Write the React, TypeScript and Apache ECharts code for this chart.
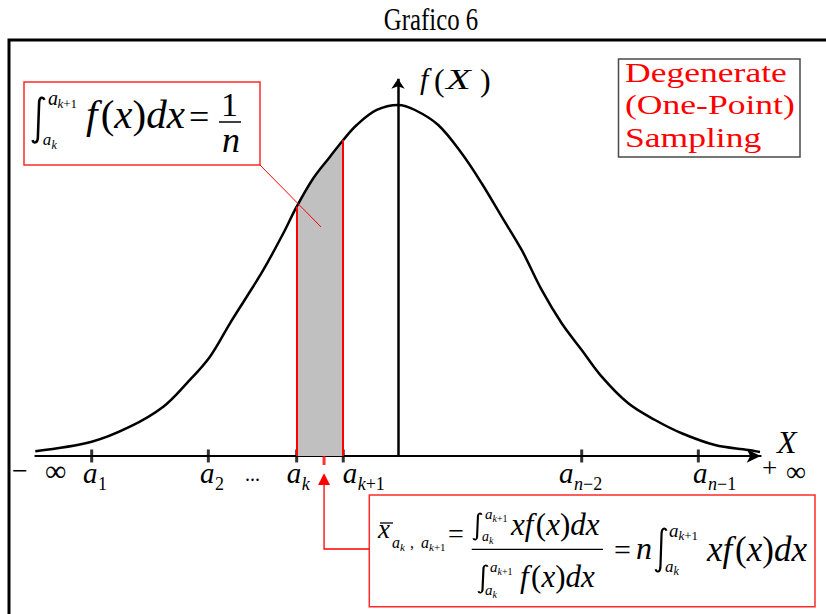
import { useEffect, useRef } from 'react';
import * as echarts from 'echarts';

// Density curve f(x): x in sigma units, f as density
const CURVE_X = [-3.1, -2.618, -2.291, -2.006, -1.806, -1.607, -1.436, -1.293, -1.151, -0.98, -0.866, -0.724, -0.581, -0.468, -0.353, -0.182, 0, 0.145, 0.344, 0.544, 0.715, 0.886, 1.057, 1.228, 1.399, 1.57, 1.741, 1.968, 2.197, 2.425, 2.709, 2.994, 3.094];
const CURVE_F = [0.0055, 0.0163, 0.0334, 0.0562, 0.0828, 0.1132, 0.1512, 0.1815, 0.212, 0.2538, 0.2841, 0.3165, 0.3411, 0.3601, 0.3772, 0.3943, 0.4, 0.3943, 0.3772, 0.3449, 0.3108, 0.2727, 0.2348, 0.1892, 0.1512, 0.1208, 0.0904, 0.06, 0.041, 0.0259, 0.0125, 0.0068, 0.0045];

// Partition points a_i on the X axis and their subscripts
const TICK_X = [-2.618, -1.621, -0.866, -0.468, 1.57, 2.567];
const TICK_SUB = ['1', '2', 'k', 'k+1', 'n−2', 'n−1'];
const BAND_LO = 2; // index of a_k
const BAND_HI = 3; // index of a_{k+1}

// Conditional mean of the interval and the pointer dot inside the band
const XBAR = -0.632;
const POINTER: [number, number] = [-0.658, 0.261];

const BOX_LINES = ['Degenerate', '(One-Point)', 'Sampling'];

// label placement relative to each tick (px)
const LABEL_DX = [-8.7, -8.3, -10, -0.6, -22.7, -5.3];

const SERIF = "'Liberation Serif', 'Times New Roman', serif";
const RED = '#ff0000';

const INTEGRAL_D = 'M 11.5 3 C 10.2 -0.6 7.2 -0.2 6.6 5 L 5.4 43 C 4.9 48.6 1.6 48.6 0.5 45';
echarts.graphic.registerShape('integral', echarts.graphic.extendPath(INTEGRAL_D, {}));

type TOpt = { italic?: boolean; align?: string; fill?: string; sx?: number };

const fontOf = (size: number, italic?: boolean) => `${italic ? 'italic ' : ''}${size}px ${SERIF}`;

let measureCtx: CanvasRenderingContext2D | null = null;
function textWidth(s: string, font: string) {
  if (!measureCtx) measureCtx = document.createElement('canvas').getContext('2d');
  if (!measureCtx) return s.length * 10;
  measureCtx.font = font;
  return measureCtx.measureText(s).width;
}

function txt(text: string, x: number, base: number, size: number, o: TOpt = {}) {
  const align = o.align || 'left';
  return {
    type: 'text',
    x,
    y: base - 0.34 * size,
    scaleX: o.sx ?? 1,
    silent: true,
    z: 10,
    style: {
      text,
      fill: o.fill || '#000',
      font: fontOf(size, o.italic),
      align,
      verticalAlign: 'middle',
    },
  };
}

// a run of glyph groups set one after another: [text, italic, extra gap in em]
type Part = [string, boolean, number?];
function seq(out: any[], parts: Part[], x: number, base: number, size: number) {
  let cx = x;
  for (const [s, it, gap] of parts) {
    out.push(txt(s, cx, base, size, { italic: it }));
    cx += textWidth(s, fontOf(size, it)) + (gap ?? 0) * size;
  }
  return cx;
}

const F_X_DX: Part[] = [['f', true, 0.08], ['(', false], ['x', true], [')', false], ['dx', true]];
const XF_X_DX: Part[] = [['xf', true, 0.08], ['(', false], ['x', true], [')', false], ['dx', true]];
const K_PLUS_1: Part[] = [['k', true], ['+1', false]];

function subParts(s: string): Part[] {
  const out: Part[] = [];
  for (const ch of s) {
    const it = ch === 'k' || ch === 'n';
    const last = out[out.length - 1];
    if (last && last[1] === it) last[0] += ch;
    else out.push([ch, it]);
  }
  return out;
}

function integral(x: number, y: number, w: number, h: number, lw: number) {
  return {
    type: 'integral',
    x,
    y,
    scaleX: w / 12,
    scaleY: h / 48,
    silent: true,
    z: 10,
    style: { stroke: '#000', fill: 'none', lineWidth: lw, strokeNoScale: true },
  };
}

function hline(x1: number, x2: number, y: number, lw: number, color = '#000') {
  return { type: 'line', silent: true, z: 10, shape: { x1, y1: y, x2, y2: y }, style: { stroke: color, lineWidth: lw } };
}

export default function App() {
  const ref = useRef<HTMLDivElement>(null);

  useEffect(() => {
    if (!ref.current) return;
    const chart = echarts.init(ref.current, undefined, { renderer: 'svg' });

    const curve = CURVE_X.map((x, i) => [x, CURVE_F[i]]);
    const lo = TICK_X[BAND_LO];
    const hi = TICK_X[BAND_HI];
    const band = curve.filter(([x]) => x >= lo - 1e-9 && x <= hi + 1e-9);
    const fLo = band[0][1];
    const fHi = band[band.length - 1][1];

    chart.setOption({
      animation: false,
      grid: { left: 35.3, right: 65.3, top: 69.9, bottom: 26.4, outerBoundsMode: 'none', containLabel: false },
      xAxis: {
        type: 'value',
        min: -3.1,
        max: 3.1,
        axisLine: {
          show: true,
          onZero: true,
          symbol: ['none', 'arrow'],
          symbolSize: [10, 14],
          lineStyle: { color: '#000', width: 2 },
        },
        axisTick: { show: false },
        axisLabel: { show: false },
        splitLine: { show: false },
      },
      yAxis: {
        type: 'value',
        min: -0.15,
        max: 0.44,
        show: false,
        splitLine: { show: false },
      },
      series: [
        {
          type: 'line',
          data: band,
          smooth: 0.35,
          symbol: 'none',
          silent: true,
          lineStyle: { width: 0 },
          areaStyle: { color: '#c0c0c0', opacity: 1 },
          markLine: {
            silent: true,
            symbol: ['none', 'none'],
            label: { show: false },
            lineStyle: { color: RED, width: 2, type: 'solid' },
            data: [
              [{ coord: [lo, 0] }, { coord: [lo, fLo] }],
              [{ coord: [hi, 0] }, { coord: [hi, fHi] }],
            ],
          },
        },
        {
          type: 'line',
          data: curve,
          smooth: 0.35,
          symbol: 'none',
          silent: true,
          lineStyle: { color: '#000', width: 2.5 },
          markLine: {
            silent: true,
            symbol: ['none', 'arrow'],
            symbolSize: [10, 10],
            label: { show: false },
            lineStyle: { color: '#000', width: 2.5, type: 'solid' },
            data: [[{ coord: [0, 0] }, { coord: [0, 0.43] }]],
          },
        },
        {
          type: 'scatter',
          silent: true,
          symbol: 'rect',
          symbolSize: [3, 13],
          itemStyle: { color: '#000' },
          data: TICK_X.map((x) => [x, 0]),
        },
        {
          type: 'scatter',
          silent: true,
          symbol: 'rect',
          symbolSize: [3, 18],
          itemStyle: { color: RED },
          data: [[XBAR, 0]],
        },
        {
          type: 'scatter',
          silent: true,
          symbol: 'circle',
          symbolSize: 10,
          itemStyle: { color: RED },
          data: [POINTER],
        },
      ],
    });

    const P = (x: number, y: number) => chart.convertToPixel({ gridIndex: 0 }, [x, y]) as number[];
    const axisY = P(0, 0)[1];

    const g: any[] = [];
    // frame and title
    g.push({ type: 'rect', silent: true, z: 1, shape: { x: 9, y: 40, width: 840, height: 600 }, style: { fill: 'none', stroke: '#000', lineWidth: 3 } });
    g.push(txt('Grafico 6', 431, 30, 31, { align: 'center', sx: 0.8 }));

    // axis labels
    TICK_X.forEach((x, i) => {
      const ax = P(x, 0)[0] + LABEL_DX[i];
      const end = seq(g, [['a', true]], ax, 483, 29);
      seq(g, subParts(TICK_SUB[i]), end + 0.5, 490, 18);
    });
    const dotsX = (P(TICK_X[1], 0)[0] + P(TICK_X[2], 0)[0]) / 2;
    g.push(txt('...', dotsX, 481, 20, { align: 'center' }));
    g.push(txt('−', 12, 480, 28));
    g.push(txt('∞', 45, 481, 30));
    g.push(txt('+', 762, 477, 27));
    g.push(txt('∞', 786, 481.5, 28));
    g.push(txt('X', 777, 453, 32, { italic: true }));

    // f(X) label
    g.push(txt('f', 420, 89, 30, { italic: true }));
    g.push(txt('(', 434, 91, 32));
    g.push(txt('X', 446, 89, 30, { italic: true, sx: 1.35 }));
    g.push(txt(')', 480, 91, 32));

    // box: integral equals 1/n
    g.push({ type: 'rect', silent: true, z: 9, shape: { x: 24, y: 82, width: 236, height: 83 }, style: { fill: '#fff', stroke: '#ff2a2a', lineWidth: 1.5 } });
    g.push(integral(32, 97, 13, 46, 2.4));
    seq(g, [['a', true]], 48, 105, 20);
    seq(g, K_PLUS_1, 57.5, 108, 13);
    seq(g, [['a', true]], 42.7, 145.5, 17);
    seq(g, [['k', true]], 51.5, 149, 12);
    seq(g, F_X_DX, 86, 128, 41);
    g.push(txt('=', 189, 129, 36));
    g.push(txt('1', 229.5, 116, 34, { align: 'center' }));
    g.push(hline(219, 241, 122, 1.5));
    g.push(txt('n', 231, 152, 36, { italic: true, align: 'center' }));
    const pd = P(POINTER[0], POINTER[1]);
    g.push({ type: 'line', silent: true, z: 10, shape: { x1: 260, y1: 165, x2: pd[0], y2: pd[1] }, style: { stroke: RED, lineWidth: 1 } });

    // box: degenerate sampling
    g.push({ type: 'rect', silent: true, z: 9, shape: { x: 618.5, y: 59, width: 181.5, height: 98 }, style: { fill: '#fff', stroke: '#4a4a4a', lineWidth: 1.5 } });
    BOX_LINES.forEach((s, i) => {
      g.push(txt(s, 625, 81.7 + i * 32.5, 28, { fill: RED, sx: 1.27 }));
    });

    // pointer from the interval mean to the formula box
    const xb = P(XBAR, 0)[0];
    g.push({ type: 'polygon', silent: true, z: 10, shape: { points: [[xb, axisY + 17.3], [xb - 6, axisY + 29], [xb + 6, axisY + 29]] }, style: { fill: RED } });
    g.push({ type: 'polyline', silent: true, z: 10, shape: { points: [[xb, axisY + 29], [xb, 549], [369.3, 549]] }, style: { stroke: RED, lineWidth: 1.3, fill: 'none' } });

    // box: conditional mean formula
    g.push({ type: 'rect', silent: true, z: 9, shape: { x: 369.3, y: 495, width: 445.7, height: 111.7 }, style: { fill: '#fff', stroke: '#ff2a2a', lineWidth: 1.5 } });
    g.push(txt('x', 378, 538, 27, { italic: true }));
    g.push(hline(380, 393, 523, 1.3));
    seq(g, [['a', true]], 392, 548, 16);
    seq(g, [['k', true]], 400, 551, 11);
    g.push(txt(',', 410, 548, 16));
    seq(g, [['a', true]], 421, 548, 16);
    seq(g, K_PLUS_1, 429, 551, 11);
    g.push(txt('=', 448, 543, 28));
    // numerator
    g.push(integral(473, 513, 9, 27, 1.8));
    seq(g, [['a', true]], 485, 519, 15);
    seq(g, K_PLUS_1, 492.5, 522, 10);
    seq(g, [['a', true]], 482, 541, 14);
    seq(g, [['k', true]], 489, 544, 10);
    seq(g, XF_X_DX, 511, 535, 31);
    g.push(hline(471.7, 603, 549.3, 1.3));
    // denominator
    g.push(integral(478, 565, 10, 28, 1.8));
    seq(g, [['a', true]], 490, 572, 15);
    seq(g, K_PLUS_1, 497.5, 575, 10);
    seq(g, [['a', true]], 485, 595, 15);
    seq(g, [['k', true]], 492.5, 598, 10);
    seq(g, F_X_DX, 520, 587, 31);
    // = n ∫ x f(x) dx
    g.push(txt('=', 614, 559.5, 30));
    g.push(txt('n', 636, 559, 32, { italic: true }));
    g.push(integral(655, 528, 12, 44, 2.2));
    seq(g, [['a', true]], 669, 537, 19);
    seq(g, K_PLUS_1, 678.5, 540, 13);
    seq(g, [['a', true]], 665, 572, 17);
    seq(g, [['k', true]], 673.5, 575, 12);
    seq(g, XF_X_DX, 707, 561, 35);

    chart.setOption({ graphic: { elements: g } });

    return () => chart.dispose();
  }, []);

  return <div ref={ref} style={{ position: 'absolute', left: 0, top: 0, width: 826, height: 614, background: '#fff' }} />;
}
